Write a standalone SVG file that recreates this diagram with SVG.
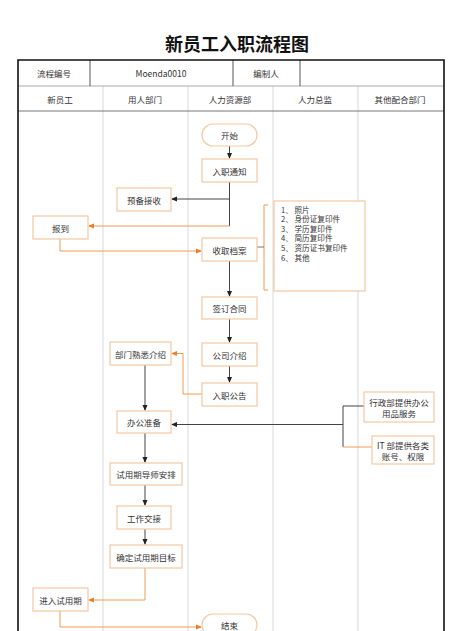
<svg xmlns="http://www.w3.org/2000/svg" width="474" height="631" viewBox="0 0 474 631">
<style>
text{font-family:"Noto Sans CJK SC","Noto Sans",sans-serif;fill:#333;font-size:8.5px;text-anchor:middle;dominant-baseline:central}
.title{font-size:18px;font-weight:bold;fill:#111}
.box{fill:#fff;stroke:#f3c9a2;stroke-width:1.2}
.lane{stroke:#d8d8d8;stroke-width:1}
.hd{stroke:#555;stroke-width:1}
.k{fill:none;stroke:#444;stroke-width:1}
.o{fill:none;stroke:#ee9a55;stroke-width:1}
.list{text-anchor:start;font-size:7.6px}
</style>
<defs>
<marker id="ak" markerWidth="6" markerHeight="6" refX="5" refY="3" orient="auto" markerUnits="userSpaceOnUse"><path d="M0,0.5 L6,3 L0,5.5 Z" fill="#222"/></marker>
<marker id="ao" markerWidth="6" markerHeight="6" refX="5" refY="3" orient="auto" markerUnits="userSpaceOnUse"><path d="M0,0.5 L6,3 L0,5.5 Z" fill="#e8802a"/></marker>
</defs>
<rect width="474" height="631" fill="#fff"/>
<text class="title" x="237" y="43">新员工入职流程图</text>
<g id="table">
<line class="lane" x1="103" y1="86" x2="103" y2="631"/>
<line class="lane" x1="188" y1="86" x2="188" y2="631"/>
<line class="lane" x1="273" y1="86" x2="273" y2="631"/>
<line class="lane" x1="358" y1="86" x2="358" y2="631"/>
<line x1="18" y1="86" x2="444" y2="86" stroke="#aaa" stroke-width="1"/>
<line x1="18" y1="111" x2="444" y2="111" stroke="#777" stroke-width="1"/>
<line class="hd" x1="90" y1="60" x2="90" y2="86"/>
<line class="hd" x1="233" y1="60" x2="233" y2="86"/>
<line class="hd" x1="300" y1="60" x2="300" y2="86"/>
<path d="M18,631 V60 H444 V631" fill="none" stroke="#111" stroke-width="1.6"/>
<text x="54" y="73">流程编号</text>
<text x="161" y="73">Moenda0010</text>
<text x="266" y="73">编制人</text>
<text x="60" y="99">新员工</text>
<text x="145" y="99">用人部门</text>
<text x="230" y="99">人力资源部</text>
<text x="315" y="99">人力总监</text>
<text x="400" y="99">其他配合部门</text>
</g>
<g id="connectors">
<path class="k" d="M229.5,146 V158" marker-end="url(#ak)"/>
<path class="k" d="M229.5,182 V199 H172" marker-end="url(#ak)"/>
<path class="k" d="M229.5,199 V226"/>
<path class="o" d="M229.5,226 H89" marker-end="url(#ao)"/>
<path class="o" d="M60,239 V251 H201" marker-end="url(#ao)"/>
<path class="k" d="M229.5,261 V296" marker-end="url(#ak)"/>
<path class="k" d="M229.5,319 V342" marker-end="url(#ak)"/>
<path class="k" d="M229.5,366 V382" marker-end="url(#ak)"/>
<path class="o" d="M202,394 H183 V353.5 H172" marker-end="url(#ao)"/>
<path class="k" d="M145,365 V410" marker-end="url(#ak)"/>
<path class="k" d="M364,406 H343 V447"/>
<path class="o" d="M343,447 H372"/>
<path class="k" d="M343,424.5 H172" marker-end="url(#ak)"/>
<path class="k" d="M145,433 V462" marker-end="url(#ak)"/>
<path class="k" d="M145,485 V505" marker-end="url(#ak)"/>
<path class="k" d="M145,529 V544" marker-end="url(#ak)"/>
<path class="o" d="M145,568 V600 H89" marker-end="url(#ao)"/>
<path class="o" d="M60,611 V627 H201" marker-end="url(#ao)"/>
<path d="M268,205 H264 V290 H268" fill="none" stroke="#ee9a55" stroke-width="1"/>
<path d="M257,247 H264" fill="none" stroke="#777" stroke-width="1"/>
</g>
<g id="n-start"><rect class="box" x="202" y="124" width="55" height="22" rx="11"/><text x="229.5" y="135">开始</text></g>
<g id="n-notice"><rect class="box" x="202" y="159" width="55" height="23"/><text x="229.5" y="170.5">入职通知</text></g>
<g id="n-prepare"><rect class="box" x="117" y="188" width="54" height="23"/><text x="144" y="199.5">预备接收</text></g>
<g id="n-report"><rect class="box" x="33" y="216" width="55" height="23"/><text x="60.5" y="227.5">报到</text></g>
<g id="n-collect"><rect class="box" x="202" y="238" width="55" height="23"/><text x="229.5" y="249.5">收取档案</text></g>
<g id="n-list"><rect class="box" x="274" y="201" width="91" height="90"/>
<text class="list" x="281" y="209">1、 照片</text>
<text class="list" x="281" y="218.6">2、 身份证复印件</text>
<text class="list" x="281" y="228.2">3、 学历复印件</text>
<text class="list" x="281" y="237.8">4、 简历复印件</text>
<text class="list" x="281" y="247.4">5、 资历证书复印件</text>
<text class="list" x="281" y="257">6、 其他</text>
</g>
<g id="n-contract"><rect class="box" x="202" y="297" width="55" height="22"/><text x="229.5" y="308">签订合同</text></g>
<g id="n-company"><rect class="box" x="202" y="343" width="55" height="23"/><text x="229.5" y="354.5">公司介绍</text></g>
<g id="n-announce"><rect class="box" x="202" y="383" width="55" height="23"/><text x="229.5" y="394.5">入职公告</text></g>
<g id="n-dept"><rect class="box" x="110" y="342" width="61" height="23"/><text x="140.5" y="353.5">部门熟悉介绍</text></g>
<g id="n-office"><rect class="box" x="117" y="411" width="54" height="22"/><text x="144" y="422">办公准备</text></g>
<g id="n-admin"><rect class="box" x="364" y="392" width="70" height="30"/><text x="399" y="402">行政部提供办公</text><text x="399" y="412.5">用品服务</text></g>
<g id="n-it"><rect class="box" x="372" y="436" width="62" height="28"/><text x="403" y="445">IT 部提供各类</text><text x="403" y="455.5">账号、权限</text></g>
<g id="n-mentor"><rect class="box" x="110" y="463" width="72" height="22"/><text x="146" y="474">试用期导师安排</text></g>
<g id="n-handover"><rect class="box" x="117" y="506" width="54" height="23"/><text x="144" y="517.5">工作交接</text></g>
<g id="n-goal"><rect class="box" x="110" y="545" width="72" height="23"/><text x="146" y="556.5">确定试用期目标</text></g>
<g id="n-probation"><rect class="box" x="33" y="588" width="55" height="23"/><text x="60.5" y="599.5">进入试用期</text></g>
<g id="n-end"><rect class="box" x="202" y="614" width="55" height="22" rx="11"/><text x="229.5" y="625">结束</text></g>
</svg>
